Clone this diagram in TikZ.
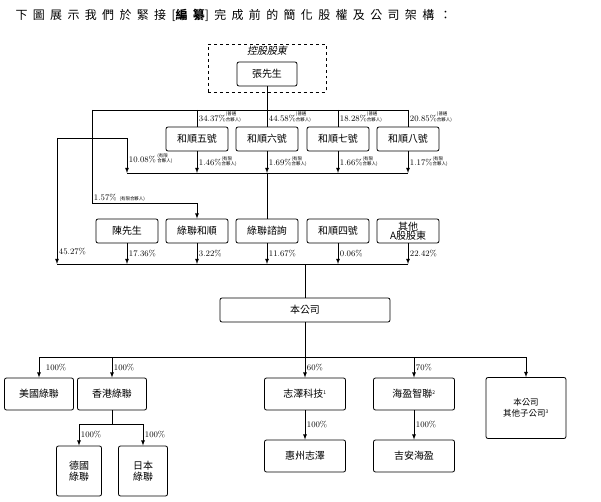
\documentclass[tikz,border=0pt]{standalone}
\usepackage{fontspec}
\newfontfamily\cjk{Noto Sans CJK TC}
\newfontfamily\cjkit{Noto Sans CJK TC}[FakeSlant=0.2]
\newfontfamily\cjktitle{Noto Sans CJK TC}[LetterSpace=45]
\usetikzlibrary{positioning}
\newcommand{\ptnr}[1]{{\cjk\fontsize{4.5}{5}\selectfont\begin{tabular}[b]{@{}l@{}}(#1\\合夥人)\end{tabular}}}

\begin{document}
\begin{tikzpicture}[x=1bp, y=-1bp, >=latex,
  box/.style={draw, rounded corners=2bp, thick, minimum width=62bp, minimum height=24bp,
    inner sep=1bp, font=\cjk\fontsize{10}{11}\selectfont, align=center},
  pct/.style={font=\fontsize{8.5}{9}\selectfont, anchor=west, inner sep=1.5bp}]
  \useasboundingbox (0,0) rectangle (601,502);

  \node (title) [anchor=west, font=\cjktitle\fontsize{12}{14}\selectfont] at (12,15)
    {下圖展示我們於緊接[{\bfseries 編纂}]完成前的簡化股權及公司架構：};

  % controlling shareholder
  \node (ctrl) [draw, dashed, thick, minimum width=118bp, minimum height=48bp] at (267,68) {};
  \node (ctrltxt) [font=\cjkit\fontsize{10}{11}\selectfont] at (267,51) {控股股東};
  \node (zhang) [box, minimum width=60bp] at (267,74) {張先生};

  % first row
  \node (h5) [box] at (197,139) {和順五號};
  \node (h6) [box] at (267,139) {和順六號};
  \node (h7) [box] at (338,139) {和順七號};
  \node (h8) [box] at (408,139) {和順八號};

  % second row
  \node (chen) [box] at (127,231) {陳先生};
  \node (lh)   [box] at (197,231) {綠聯和順};
  \node (lz)   [box] at (267,231) {綠聯諮詢};
  \node (h4)   [box] at (338,231) {和順四號};
  \node (oth)  [box, font=\cjk\fontsize{10}{9.5}\selectfont] at (408,231) {其他\\A股股東};

  \node (co) [box, minimum width=170bp] at (305,310) {本公司};

  % subsidiaries
  \node (us) [box, minimum width=69bp, minimum height=32bp] at (39,394) {美國綠聯};
  \node (hk) [box, minimum width=69bp, minimum height=32bp] at (112,394) {香港綠聯};
  \node (de) [box, minimum width=45bp, minimum height=50bp] at (79,471) {德國\\綠聯};
  \node (jp) [box, minimum width=49bp, minimum height=50bp] at (143,471) {日本\\綠聯};
  \node (zz) [box, minimum width=81bp, minimum height=32bp] at (305,394) {志澤科技\textsuperscript{\tiny 1}};
  \node (hz) [box, minimum width=81bp, minimum height=32bp] at (305,456) {惠州志澤};
  \node (hy) [box, minimum width=81bp, minimum height=32bp] at (414,394) {海盈智聯\textsuperscript{\tiny 2}};
  \node (ja) [box, minimum width=81bp, minimum height=32bp] at (414,456) {吉安海盈};
  \node (sub) [box, minimum width=80bp, minimum height=61bp, font=\cjk\fontsize{8.5}{11}\selectfont] at (526,408) {本公司\\其他子公司\textsuperscript{\tiny 3}};

  % bus coordinates
  \coordinate (t0) at (267,110);
  \coordinate (tl) at (92,110);
  \coordinate (tr) at (408,110);
  \coordinate (m0) at (267,173);
  \coordinate (ml) at (127,173);
  \coordinate (mr) at (408,173);
  \coordinate (lft) at (57,138);
  \coordinate (k1) at (92,203);
  \coordinate (b0) at (305,264);
  \coordinate (bl) at (57,264);
  \coordinate (br) at (408,264);
  \coordinate (s0) at (305,357);
  \coordinate (sl) at (39,357);
  \coordinate (sr) at (526,357);
  \coordinate (hkb) at (112,424);

  \draw[thick] (zhang) -- (t0);
  \draw[thick] (tl) -- (tr);
  \draw[thick] (h5.north |- t0) -- node[pct, pos=0.45] {34.37\%\ptnr{普通}} (h5);
  \draw[thick] (t0) -- node[pct, pos=0.45] {44.58\%\ptnr{普通}} (h6);
  \draw[thick] (h7.north |- t0) -- node[pct, pos=0.45] {18.28\%\ptnr{普通}} (h7);
  \draw[thick] (tr) -- node[pct, pos=0.45] {20.85\%\ptnr{普通}} (h8);

  \draw[thick] (ml) -- (mr);
  \draw[thick, ->] (lft) -| node[pct, pos=0.8] {10.08\%\,\ptnr{有限}} (ml);
  \draw[thick, ->] (h5) -- node[pct] {1.46\%\ptnr{有限}} (h5 |- m0);
  \draw[thick, ->] (h6) -- node[pct] {1.69\%\ptnr{有限}} (m0);
  \draw[thick, ->] (h7) -- node[pct] {1.66\%\ptnr{有限}} (h7 |- m0);
  \draw[thick, ->] (h8) -- node[pct] {1.17\%\ptnr{有限}} (mr);
  \draw[thick] (m0) -- (lz);

  \draw[thick, ->] (tl) |- node[pct, pos=0.55, anchor=south west] {1.57\% {\cjk\fontsize{4.5}{5}\selectfont (有限合夥人)}} (k1) -| (lh);

  \draw[thick] (bl) -- (br);
  \draw[thick, ->] (lft) -- node[pct, pos=0.9] {45.27\%} (bl);
  \draw[thick, ->] (chen) -- node[pct] {17.36\%} (chen |- b0);
  \draw[thick, ->] (lh) -- node[pct] {3.22\%} (lh |- b0);
  \draw[thick, ->] (lz) -- node[pct] {11.67\%} (lz |- b0);
  \draw[thick, ->] (h4) -- node[pct] {0.06\%} (h4 |- b0);
  \draw[thick, ->] (oth) -- node[pct] {22.42\%} (br);
  \draw[thick] (b0) -- (co);

  \draw[thick] (co) -- (s0);
  \draw[thick] (sl) -- (sr);
  \draw[thick, ->] (sl) -- node[pct, xshift=5bp] {100\%} (us);
  \draw[thick, ->] (hk.north |- s0) -- node[pct] {100\%} (hk);
  \draw[thick, ->] (s0) -- node[pct] {60\%} (zz);
  \draw[thick, ->] (hy.north |- s0) -- node[pct] {70\%} (hy);
  \draw[thick, ->] (sr) -- (sub);
  \draw[thick, ->] (zz) -- node[pct] {100\%} (hz);
  \draw[thick, ->] (hy) -- node[pct] {100\%} (ja);

  \draw[thick] (hk) -- (hkb);
  \draw[thick, ->] (hkb) -| node[pct, pos=0.75] {100\%} (de);
  \draw[thick, ->] (hkb) -| node[pct, pos=0.75] {100\%} (jp);
\end{tikzpicture}
\end{document}
